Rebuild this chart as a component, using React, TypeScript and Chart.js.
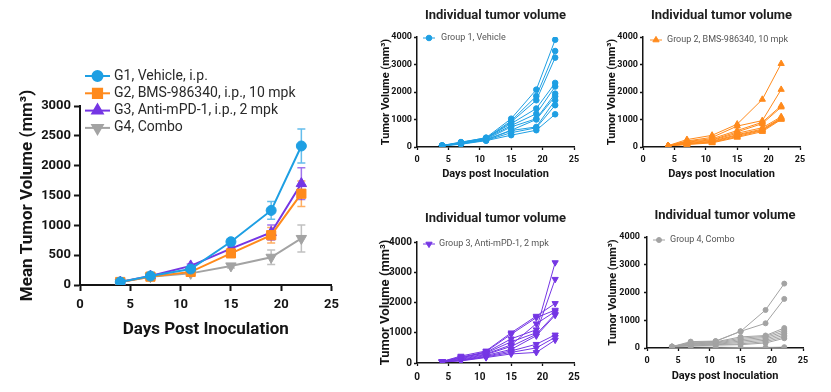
import React, { useEffect, useRef } from 'react';
import { Chart, registerables } from 'chart.js';
import { drawPoint } from 'chart.js/helpers';

Chart.register(...registerables);

const FONT = "Roboto, sans-serif";
Chart.defaults.font.family = FONT;

// ---------------- data ----------------
const days = [4, 7, 11, 15, 19, 22];

const mainXTicks = [0, 5, 10, 15, 20, 25];
const mainYTicks = [0, 500, 1000, 1500, 2000, 2500, 3000];
const panelXTicks = [0, 5, 10, 15, 20, 25];
const panelYTicks = [0, 1000, 2000, 3000, 4000];

const groupLabels = [
  'G1, Vehicle, i.p.',
  'G2, BMS-986340, i.p., 10 mpk',
  'G3, Anti-mPD-1, i.p., 2 mpk',
  'G4, Combo',
];

const g1Mean = [50, 150, 268, 725, 1250, 2330];
const g1Sem = [8, 15, 30, 50, 150, 285];
const g2Mean = [50, 140, 220, 530, 835, 1530];
const g2Sem = [8, 15, 25, 40, 130, 215];
const g3Mean = [50, 150, 320, 610, 880, 1700];
const g3Sem = [8, 15, 30, 45, 125, 265];
const g4Mean = [50, 140, 195, 320, 465, 780];
const g4Sem = [8, 15, 25, 35, 120, 225];

const g1Animals = [
  [45, 160, 340, 1030, 2085, 3900],
  [50, 150, 320, 950, 1850, 3490],
  [40, 140, 300, 910, 1700, 3250],
  [55, 180, 330, 850, 1400, 2330],
  [50, 170, 310, 780, 1210, 2200],
  [45, 130, 280, 730, 1030, 1940],
  [50, 120, 270, 610, 1000, 1840],
  [40, 110, 250, 600, 730, 1700],
  [55, 140, 240, 520, 700, 1520],
  [45, 100, 230, 430, 610, 1190],
];
const g2Animals = [
  [50, 270, 425, 830, 1730, 3030],
  [45, 220, 350, 760, 960, 2090],
  [50, 200, 300, 600, 900, 1500],
  [40, 180, 260, 550, 850, 1450],
  [50, 150, 240, 500, 700, 1100],
  [45, 130, 210, 450, 650, 1060],
  [50, 110, 190, 420, 620, 1040],
  [40, 100, 170, 380, 600, 1020],
  [45, 90, 150, 350, 560, 1000],
];
const g3Animals = [
  [50, 200, 350, 800, 1100, 3320],
  [45, 180, 330, 700, 1000, 2770],
  [50, 230, 400, 1000, 1550, 1970],
  [40, 160, 380, 950, 1500, 1750],
  [50, 150, 300, 600, 1300, 1700],
  [45, 120, 280, 550, 950, 1620],
  [30, 100, 250, 450, 900, 1580],
  [50, 90, 220, 400, 620, 930],
  [40, 80, 200, 350, 500, 850],
  [30, 70, 180, 300, 350, 760],
];
const g4Animals = [
  [50, 230, 250, 600, 1370, 2320],
  [45, 200, 240, 600, 890, 1770],
  [50, 180, 220, 400, 450, 720],
  [40, 160, 200, 350, 420, 650],
  [50, 150, 180, 300, 380, 580],
  [45, 130, 160, 250, 330, 520],
  [40, 110, 140, 200, 280, 460],
  [50, 100, 120, 150, 230, 400],
  [45, 80, 100, 120, 180, 350],
  [30, 40, 30, 20, 20, 30],
];

const panelLegends = [
  'Group 1, Vehicle',
  'Group 2, BMS-986340, 10 mpk',
  'Group 3, Anti-mPD-1, 2 mpk',
  'Group 4, Combo',
];
const panelTitle = 'Individual tumor volume';
const panelYTitle = 'Tumor Volume (mm³)';
const panelXTitle = 'Days post Inoculation';
const mainYTitle = 'Mean Tumor Volume (mm³)';
const mainXTitle = 'Days Post Inoculation';

// ---------------- styles ----------------
const BLUE = '#1E9FE3';
const ORANGE = '#FF8A1C';
const PURPLE = '#7536E4';
const GRAY = '#A3A3A3';
const AXIS = '#141414';

// ---------------- plugin ----------------
const decor = {
  id: 'decor',
  beforeDatasetsDraw(chart: any, _a: any, opts: any) {
    const { ctx, scales } = chart;
    const x = scales.x, y = scales.y;
    ctx.save();
    chart.data.datasets.forEach((ds: any) => {
      if (!ds.errors) return;
      ctx.strokeStyle = ds.errorColor || ds.borderColor;
      ctx.lineWidth = 1.5;
      const cap = opts.cap || 4;
      ds.data.forEach((p: any, i: number) => {
        const px = x.getPixelForValue(p.x);
        const top = y.getPixelForValue(p.y + ds.errors[i]);
        const bot = y.getPixelForValue(Math.max(0, p.y - ds.errors[i]));
        ctx.beginPath();
        ctx.moveTo(px, top); ctx.lineTo(px, bot);
        ctx.moveTo(px - cap, top); ctx.lineTo(px + cap, top);
        ctx.moveTo(px - cap, bot); ctx.lineTo(px + cap, bot);
        ctx.stroke();
      });
    });
    ctx.restore();
  },
  afterDraw(chart: any, _a: any, opts: any) {
    const { ctx, chartArea } = chart;
    ctx.save();
    if (opts.title) {
      const t = opts.title;
      ctx.font = `bold ${t.size}px ${FONT}`;
      ctx.fillStyle = t.color || '#222';
      ctx.textAlign = 'center';
      ctx.textBaseline = 'middle';
      ctx.fillText(t.text, (chartArea.left + chartArea.right) / 2, t.y);
    }
    if (opts.legend) {
      const L = opts.legend;
      let row = 0;
      chart.data.datasets.forEach((ds: any) => {
        if (!ds.label) return;
        const yy = L.y + row * (L.spacing || 0);
        ctx.strokeStyle = ds.borderColor;
        ctx.lineWidth = ds.borderWidth;
        ctx.beginPath();
        ctx.moveTo(L.x, yy);
        ctx.lineTo(L.x + L.len, yy);
        ctx.stroke();
        ctx.fillStyle = ds.pointBackgroundColor || ds.borderColor;
        ctx.strokeStyle = ds.borderColor;
        drawPoint(ctx, {
          pointStyle: ds.pointStyle,
          rotation: ds.pointRotation || 0,
          radius: ds.pointRadius,
          borderWidth: 1,
        } as any, L.x + L.len / 2, yy);
        ctx.font = `${L.size}px ${FONT}`;
        ctx.fillStyle = L.color;
        ctx.textAlign = 'left';
        ctx.textBaseline = 'middle';
        ctx.fillText(ds.label, L.x + L.len + L.gap, yy);
        row++;
      });
    }
    ctx.restore();
  },
};

function axisCommon(tickLength: number, width: number) {
  return {
    display: true,
    drawOnChartArea: false,
    drawTicks: true,
    tickLength,
    tickWidth: width,
    tickColor: AXIS,
    color: AXIS,
  };
}

const plain = (v: any) => String(v);

function series(vals: number[]) {
  return days.map((d, i) => ({ x: d, y: vals[i] }));
}

// ---------------- main chart ----------------
function mainConfig(): any {
  const mk = (label: string, mean: number[], sem: number[], color: string, style: string, radius: number, rot = 0) => ({
    label,
    data: series(mean),
    errors: sem,
    errorColor: color + 'B0',
    borderColor: color,
    backgroundColor: color,
    pointBackgroundColor: color,
    pointBorderColor: color,
    pointStyle: style,
    pointRotation: rot,
    pointRadius: radius,
    pointBorderWidth: 1,
    borderWidth: 2,
    tension: 0,
  });
  return {
    type: 'line',
    data: {
      datasets: [
        mk(groupLabels[0], g1Mean, g1Sem, BLUE, 'circle', 5),
        mk(groupLabels[1], g2Mean, g2Sem, ORANGE, 'rect', 6.5),
        mk(groupLabels[2], g3Mean, g3Sem, PURPLE, 'triangle', 6),
        mk(groupLabels[3], g4Mean, g4Sem, GRAY, 'triangle', 6, 180),
      ],
    },
    options: {
      animation: false,
      responsive: false,
      layout: { padding: { left: 0, right: 11, top: 106, bottom: 47 } },
      plugins: {
        legend: { display: false },
        tooltip: { enabled: false },
        decor: {
          cap: 4,
          legend: { x: 85, y: 76, len: 25, gap: 4, spacing: 17.3, size: 14, color: '#2a2a2a' },
        },
      },
      scales: {
        x: {
          type: 'linear',
          min: 0,
          max: 25,
          afterBuildTicks: (a: any) => { a.ticks = mainXTicks.map((v) => ({ value: v })); },
          afterFit: (s: any) => { s.height = 60; },
          grid: axisCommon(6, 2),
          border: { display: true, color: AXIS, width: 2 },
          ticks: { color: AXIS, font: { size: 13, weight: 'bold' }, padding: 6, maxRotation: 0, callback: plain },
          title: { display: true, text: mainXTitle, color: AXIS, font: { size: 17, weight: 'bold' }, padding: { top: 0, bottom: 5 } },
        },
        y: {
          type: 'linear',
          min: 0,
          max: 3000,
          afterBuildTicks: (a: any) => { a.ticks = mainYTicks.map((v) => ({ value: v })); },
          afterFit: (s: any) => { s.width = 80; },
          grid: axisCommon(6, 2),
          border: { display: true, color: AXIS, width: 2 },
          ticks: { color: AXIS, font: { size: 13, weight: 'bold' }, padding: 3, callback: plain },
          title: { display: true, text: mainYTitle, color: AXIS, font: { size: 17, weight: 'bold' }, padding: { top: 18, bottom: 0 } },
        },
      },
    },
    plugins: [decor],
  };
}

// ---------------- panels ----------------
type PanelSpec = {
  animals: number[][];
  legend: string;
  color: string;
  style: string;
  rot: number;
  radius: number;
  padding: { left: number; right: number; top: number; bottom: number };
  yW: number;
  xH: number;
  tickFont: number;
  yTickPad: number;
  xTickPad: number;
  yTitleFont: number;
  yTitlePad: number;
  xTitle: boolean;
  xTitlePad: number;
  titleY: number;
  leg: { x: number; y: number; len: number; gap: number };
};

function panelConfig(p: PanelSpec): any {
  const datasets = p.animals.map((vals, i) => ({
    label: i === 0 ? p.legend : '',
    data: series(vals),
    borderColor: p.color,
    backgroundColor: p.color,
    pointBackgroundColor: p.color,
    pointBorderColor: p.color,
    pointStyle: p.style,
    pointRotation: p.rot,
    pointRadius: p.radius,
    pointBorderWidth: 1,
    borderWidth: 1,
    tension: 0,
  }));
  return {
    type: 'line',
    data: { datasets },
    options: {
      animation: false,
      responsive: false,
      layout: { padding: p.padding },
      plugins: {
        legend: { display: false },
        tooltip: { enabled: false },
        decor: {
          title: { text: panelTitle, size: 13, y: p.titleY, color: '#1e1e1e' },
          legend: { ...p.leg, spacing: 0, size: 9, color: '#555555' },
        },
      },
      scales: {
        x: {
          type: 'linear',
          min: 0,
          max: 25,
          afterBuildTicks: (a: any) => { a.ticks = panelXTicks.map((v) => ({ value: v })); },
          afterFit: (s: any) => { s.height = p.xH; },
          grid: axisCommon(3, 1.3),
          border: { display: true, color: AXIS, width: 1.5 },
          ticks: { color: AXIS, font: { size: p.tickFont, weight: 'bold' }, padding: p.xTickPad, maxRotation: 0, callback: plain },
          title: { display: p.xTitle, text: panelXTitle, color: AXIS, font: { size: 11, weight: 'bold' }, padding: { top: 0, bottom: p.xTitlePad } },
        },
        y: {
          type: 'linear',
          min: 0,
          max: 4000,
          afterBuildTicks: (a: any) => { a.ticks = panelYTicks.map((v) => ({ value: v })); },
          afterFit: (s: any) => { s.width = p.yW; },
          grid: axisCommon(3, 1.3),
          border: { display: true, color: AXIS, width: 1.5 },
          ticks: { color: AXIS, font: { size: p.tickFont, weight: 'bold' }, padding: p.yTickPad, callback: plain },
          title: { display: true, text: panelYTitle, color: AXIS, font: { size: p.yTitleFont, weight: 'bold' }, padding: { top: p.yTitlePad, bottom: 0 } },
        },
      },
    },
    plugins: [decor],
  };
}

const panels: { left: number; top: number; w: number; h: number; spec: PanelSpec }[] = [
  {
    left: 350, top: 0, w: 240, h: 196,
    spec: {
      animals: g1Animals, legend: panelLegends[0], color: BLUE, style: 'circle', rot: 0, radius: 2.8,
      padding: { left: 0, right: 16, top: 37, bottom: 13 }, yW: 67, xH: 36,
      tickFont: 9, yTickPad: 2, xTickPad: 4, yTitleFont: 11, yTitlePad: 29.4, xTitle: true, xTitlePad: 2.4, titleY: 16,
      leg: { x: 73, y: 38, len: 12, gap: 6 },
    },
  },
  {
    left: 590, top: 0, w: 241, h: 196,
    spec: {
      animals: g2Animals, legend: panelLegends[1], color: ORANGE, style: 'triangle', rot: 0, radius: 3.6,
      padding: { left: 0, right: 31, top: 37, bottom: 13 }, yW: 53, xH: 36,
      tickFont: 9, yTickPad: 2, xTickPad: 4, yTitleFont: 11, yTitlePad: 15.4, xTitle: true, xTitlePad: 2.4, titleY: 16,
      leg: { x: 60, y: 40, len: 12, gap: 5 },
    },
  },
  {
    left: 350, top: 196, w: 240, h: 196,
    spec: {
      animals: g3Animals, legend: panelLegends[2], color: PURPLE, style: 'triangle', rot: 180, radius: 3.6,
      padding: { left: 0, right: 16, top: 46, bottom: 0 }, yW: 67, xH: 29,
      tickFont: 10, yTickPad: 2, xTickPad: 5, yTitleFont: 13, yTitlePad: 28.2, xTitle: false, xTitlePad: 2, titleY: 23,
      leg: { x: 73, y: 48, len: 12, gap: 4 },
    },
  },
  {
    left: 590, top: 196, w: 241, h: 196,
    spec: {
      animals: g4Animals, legend: panelLegends[3], color: GRAY, style: 'circle', rot: 0, radius: 2.5,
      padding: { left: 0, right: 28, top: 41, bottom: 8 }, yW: 57, xH: 36,
      tickFont: 9, yTickPad: 4, xTickPad: 4, yTitleFont: 11, yTitlePad: 16.4, xTitle: true, xTitlePad: 1.4, titleY: 20,
      leg: { x: 63, y: 44, len: 12, gap: 5 },
    },
  },
];

function ChartBox({ left, top, w, h, make }: { left: number; top: number; w: number; h: number; make: () => any }) {
  const ref = useRef<HTMLCanvasElement>(null);
  useEffect(() => {
    const chart = new Chart(ref.current as HTMLCanvasElement, make());
    return () => chart.destroy();
  }, []);
  return (
    <div style={{ position: 'absolute', left, top, width: w, height: h }}>
      <canvas ref={ref} width={w} height={h} style={{ width: w, height: h, display: 'block' }} />
    </div>
  );
}

export default function App() {
  return (
    <div style={{ position: 'absolute', left: 0, top: 0, width: 831, height: 392, overflow: 'hidden', background: '#fff' }}>
      <ChartBox left={0} top={0} w={345} h={392} make={mainConfig} />
      {panels.map((p, i) => (
        <ChartBox key={i} left={p.left} top={p.top} w={p.w} h={p.h} make={() => panelConfig(p.spec)} />
      ))}
    </div>
  );
}
